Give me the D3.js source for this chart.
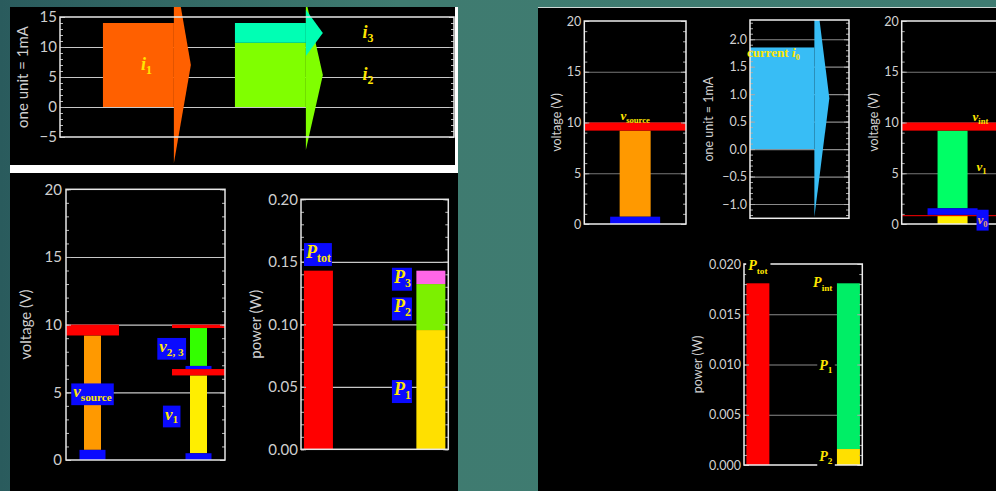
<!DOCTYPE html>
<html>
<head>
<meta charset="utf-8">
<script src="https://cdn.jsdelivr.net/npm/d3@7"></script>
<style>
  html, body { margin: 0; padding: 0; overflow: hidden; background: #3e7a70; }
  svg { display: block; }
</style>
</head>
<body>
<div id="chart"></div>
<script>
// ---------- data ----------
// top-left: branch currents (one unit = 1 mA)
const currentLabels = ['1', '2', '3'];
const currentValues = [14.0, 10.7, 3.3];
const currentBranch = [0, 1, 1];            // i2 and i3 share the right arrow
const currentTicks = [-5, 0, 5, 10, 15];

// bottom-left: voltages (V)
const voltColumns = ['source', 'load'];
const voltLabels = ['source', '1', '2, 3'];
const voltColumn = ['source', 'load', 'load'];
const voltLow = [0, 0, 6.72];
const voltHigh = [10, 6.72, 10];
const voltTicks = [0, 5, 10, 15, 20];

// bottom-left: power (W)
const powerColumns = ['tot', 'parts'];
const powerLabels = ['tot', '1', '2', '3'];
const powerColumn = ['tot', 'parts', 'parts', 'parts'];
const powerValues = [0.1429, 0.0954, 0.0368, 0.0107];
const powerTicks = [0, 0.05, 0.10, 0.15, 0.20];

// right: real source with internal resistance
const srcVolt = 10;
const srcCurrent = 1.85;
const srcCurrentTicks = [-1.0, -0.5, 0, 0.5, 1.0, 1.5, 2.0];
const intVoltLabels = ['0', '1'];
const intVoltLow = [0, 0.82];
const intVoltHigh = [0.82, 10];
const rightVoltTicks = [0, 5, 10, 15, 20];
const rightPowerColumns = ['tot', 'int'];
const rightPowerLabels = ['tot', '2', '1'];
const rightPowerColumn = ['tot', 'int', 'int'];
const rightPowerValues = [0.01808, 0.00159, 0.01649];
const rightPowerTicks = [0, 0.005, 0.010, 0.015, 0.020];

// ---------- styles ----------
const YELLOW = '#ffe600';
const BLUE = '#0a0aff';
const RED = '#ff0000';
const SERIF = '"Liberation Serif", "Times New Roman", serif';
const SANS = 'Lato, "Open Sans", sans-serif';

const svg = d3.select('#chart').append('svg')
  .attr('width', 996).attr('height', 491);

const defs = svg.append('defs');
const grad = defs.append('linearGradient').attr('id', 'bg').attr('x1', 0).attr('x2', 1).attr('y1', 0).attr('y2', 0);
grad.append('stop').attr('offset', '0%').attr('stop-color', '#2a5b5d');
grad.append('stop').attr('offset', '40%').attr('stop-color', '#3f7b70');
grad.append('stop').attr('offset', '100%').attr('stop-color', '#3f7c72');
svg.append('rect').attr('width', 996).attr('height', 491).attr('fill', 'url(#bg)');

// panels
svg.append('rect').attr('x', 10).attr('y', 7).attr('width', 445).attr('height', 158).attr('fill', '#000');
svg.append('rect').attr('x', 455).attr('y', 7).attr('width', 3).attr('height', 158).attr('fill', '#fff');
svg.append('rect').attr('x', 10).attr('y', 165).attr('width', 448).attr('height', 8).attr('fill', '#fff');
svg.append('rect').attr('x', 10).attr('y', 173).attr('width', 448).attr('height', 318).attr('fill', '#000');
svg.append('rect').attr('x', 538).attr('y', 7).attr('width', 458).attr('height', 484).attr('fill', '#000');
svg.append('line').attr('x1', 538).attr('x2', 996).attr('y1', 7.5).attr('y2', 7.5).attr('stroke', '#cfd8d6');

defs.append('clipPath').attr('id', 'clipTop')
  .append('rect').attr('x', 10).attr('y', 7).attr('width', 445).attr('height', 158);

// ---------- helpers ----------
function grid(g, y, x0, x1, values, colour) {
  const a = g.append('g').attr('transform', `translate(${x0},0)`)
    .call(d3.axisLeft(y).tickValues(values).tickSize(-(x1 - x0)).tickFormat(''));
  a.select('.domain').remove();
  a.selectAll('line').attr('stroke', colour).attr('stroke-width', 1.2);
}

function frame(g, y, x0, x1, o) {
  const [d0, d1] = y.domain();
  const minor = d3.range(Math.ceil(d0 / o.minor - 1e-9), Math.floor(d1 / o.minor + 1e-9) + 1)
    .map(k => +(k * o.minor).toFixed(6));
  [[d3.axisLeft, x0], [d3.axisRight, x1]].forEach(([axis, xx]) => {
    [[minor, 3], [o.ticks, 5]].forEach(([vals, len]) => {
      const a = g.append('g').attr('transform', `translate(${xx},0)`)
        .call(axis(y).tickValues(vals).tickSize(-len).tickFormat(''));
      a.select('.domain').remove();
      a.selectAll('line').attr('stroke', o.tickColour);
    });
  });
  g.append('rect')
    .attr('x', x0).attr('y', y.range()[1])
    .attr('width', x1 - x0).attr('height', y.range()[0] - y.range()[1])
    .attr('fill', 'none').attr('stroke', o.frameColour).attr('stroke-width', 1.5);
  const lab = g.append('g').attr('transform', `translate(${x0},0)`)
    .call(d3.axisLeft(y).tickValues(o.ticks).tickSize(0).tickPadding(o.pad).tickFormat(o.fmt));
  lab.select('.domain').remove();
  lab.selectAll('text')
    .attr('fill', o.textColour).attr('font-family', SANS).attr('font-size', o.size);
  g.append('text')
    .attr('transform', `translate(${o.titleX},${(y.range()[0] + y.range()[1]) / 2}) rotate(-90)`)
    .attr('text-anchor', 'middle').attr('dy', '0.35em')
    .attr('fill', o.textColour).attr('font-family', SANS).attr('font-size', o.titleSize)
    .text(o.title);
}

// math label: italic main letter, upright subscript; y is the vertical centre
function mathLabel(g, x, cy, main, sub, o) {
  const t = g.append('text')
    .attr('x', x).attr('y', cy + o.size * 0.3)
    .attr('text-anchor', o.anchor || 'middle')
    .attr('font-family', SERIF).attr('font-weight', 'bold')
    .attr('font-size', o.size).attr('fill', o.colour || YELLOW);
  if (o.prefix) t.append('tspan').text(o.prefix);
  t.append('tspan').attr('font-style', 'italic').text(main);
  if (sub) t.append('tspan').attr('font-size', o.size * 0.66).attr('dy', o.size * 0.22).text(sub);
  if (o.bg) {
    const b = t.node().getBBox();
    const p = o.pad || [2, 1];
    g.insert('rect', () => t.node())
      .attr('x', b.x - p[0]).attr('y', b.y + (o.trim || 0) - p[1])
      .attr('width', b.width + 2 * p[0]).attr('height', b.height - (o.trim || 0) + 2 * p[1])
      .attr('fill', o.bg);
  }
  return t;
}

function arrow(g, x, y, x0, x1, head, lo, hi, colour) {
  const mid = (lo + hi) / 2, half = 1.17 * (hi - lo);
  g.append('rect')
    .attr('x', x(x0)).attr('y', y(hi))
    .attr('width', x(x1) - x(x0)).attr('height', y(lo) - y(hi))
    .attr('fill', colour);
  g.append('path')
    .attr('d', d3.line()([[x(x1), y(mid + half)], [x(x1) + head, y(mid)], [x(x1), y(mid - half)]]) + 'Z')
    .attr('fill', colour);
}

// ---------- top-left: currents ----------
{
  const g = svg.append('g');
  const y = d3.scaleLinear().domain([-5, 15]).range([137, 17]);
  const x = d3.scaleLinear().domain([0, 10]).range([60, 454]);
  const colours = ['#ff6000', '#80ff00', '#00ffb4'];
  const slotStart = [1.09, 4.44], slotWidth = 1.8;
  grid(g, y, 60, 454, [0, 5, 10], '#c8c8c8');
  const ga = g.append('g').attr('clip-path', 'url(#clipTop)');
  const base = [0, 0];
  currentValues.forEach((v, i) => {
    const b = currentBranch[i];
    const lo = base[b];
    base[b] += v;
    const x0 = slotStart[b], x1 = x0 + slotWidth;
    arrow(ga, x, y, x0, x1, 17, lo, lo + v, colours[i]);
    const lx = b === 0 ? x((x0 + x1) / 2) + 8 : x(x1) + 62;
    mathLabel(g, lx, y(lo + v / 2), 'i', currentLabels[i], { size: 18 });
  });
  frame(g, y, 60, 454, {
    ticks: currentTicks, minor: 1, fmt: d3.format('d'), pad: 3,
    tickColour: '#bbbbbb', frameColour: '#e6e6e6', textColour: '#cfcfcf', size: 15,
    title: 'one unit = 1mA', titleX: 23, titleSize: 15
  });
}

// ---------- bottom-left: voltages ----------
{
  const g = svg.append('g');
  const y = d3.scaleLinear().domain([0, 20]).range([460, 189.3]);
  const x = d3.scalePoint().domain(voltColumns).range([66, 225]).padding(0.25);
  const colours = ['#ff9900', '#ffee00', '#33ff00'];
  const redCap = [0.8, 0.47, 0.25], blueCap = [0.75, 0.5, 0.23];
  grid(g, y, 66, 225, [5, 10, 15], '#c8c8c8');
  voltLow.forEach((lo, i) => {
    const hi = voltHigh[i], cx = x(voltColumn[i]);
    g.append('rect').attr('x', cx - 8.5).attr('width', 17)
      .attr('y', y(hi - redCap[i])).attr('height', y(lo + blueCap[i]) - y(hi - redCap[i]))
      .attr('fill', colours[i]);
    g.append('rect').attr('x', cx - 13).attr('width', 26)
      .attr('y', y(lo + blueCap[i])).attr('height', y(lo) - y(lo + blueCap[i]))
      .attr('fill', BLUE);
    g.append('rect').attr('x', cx - 26.5).attr('width', 53)
      .attr('y', y(hi)).attr('height', y(hi - redCap[i]) - y(hi))
      .attr('fill', RED);
  });
  frame(g, y, 66, 225, {
    ticks: voltTicks, minor: 1, fmt: d3.format('d'), pad: 4,
    tickColour: '#bbbbbb', frameColour: '#e6e6e6', textColour: '#cfcfcf', size: 15,
    title: 'voltage (V)', titleX: 26, titleSize: 15
  });
  voltLow.forEach((lo, i) => {
    const cx = x(voltColumn[i]);
    const lx = i === 0 ? cx : cx - 27;
    mathLabel(g, lx, y((lo + voltHigh[i]) / 2), 'v', voltLabels[i],
      { size: 17, bg: BLUE, pad: [2, 2], trim: 3 });
  });
}

// ---------- bottom-left: power ----------
{
  const g = svg.append('g');
  const y = d3.scaleLinear().domain([0, 0.2]).range([449.3, 199.3]);
  const x = d3.scalePoint().domain(powerColumns).range([301, 448.3]).padding(0.155);
  const colours = ['#ff0000', '#ffe000', '#7cf000', '#ff66e8'];
  grid(g, y, 301, 448.3, [0.05, 0.10, 0.15], '#c8c8c8');
  const base = {};
  const segs = powerValues.map((v, i) => {
    const c = powerColumn[i], lo = base[c] || 0;
    base[c] = lo + v;
    return { c, lo, hi: lo + v, i };
  });
  g.selectAll('rect.bar').data(segs).join('rect')
    .attr('class', 'bar')
    .attr('x', d => x(d.c) - 14.5).attr('width', 29)
    .attr('y', d => y(d.hi)).attr('height', d => y(d.lo) - y(d.hi))
    .attr('fill', d => colours[d.i]);
  frame(g, y, 301, 448.3, {
    ticks: powerTicks, minor: 0.01, fmt: d3.format('.2f'), pad: 3,
    tickColour: '#bbbbbb', frameColour: '#e6e6e6', textColour: '#cfcfcf', size: 15,
    title: 'power (W)', titleX: 256, titleSize: 15
  });
  segs.forEach(d => {
    if (d.c === 'tot') {
      mathLabel(g, x(d.c), y(d.hi) - 18, 'P', powerLabels[d.i], { size: 18, bg: BLUE, pad: [1, 1], trim: 2 });
    } else {
      mathLabel(g, x(d.c) - 20, y((d.lo + d.hi) / 2), 'P', powerLabels[d.i], { size: 18, anchor: 'end', bg: BLUE, pad: [1, 1], trim: 2 });
    }
  });
}

// ---------- right: source voltage ----------
const yRV = d3.scaleLinear().domain([0, 20]).range([224, 21]);
function rightVoltFrame(g, x0, x1, titleX) {
  frame(g, yRV, x0, x1, {
    ticks: rightVoltTicks, minor: 1, fmt: d3.format('d'), pad: 3,
    tickColour: '#aaaaaa', frameColour: '#eeeeee', textColour: '#d2d2d2', size: 12.5,
    title: 'voltage (V)', titleX, titleSize: 12.5
  });
}
{
  const g = svg.append('g');
  const x0 = 584.3, x1 = 686, cx = (x0 + x1) / 2;
  grid(g, yRV, x0, x1, [5, 10, 15], '#777777');
  g.append('rect').attr('x', cx - 15.5).attr('width', 31)
    .attr('y', yRV(srcVolt - 0.8)).attr('height', yRV(0.72) - yRV(srcVolt - 0.8)).attr('fill', '#ff9900');
  g.append('rect').attr('x', cx - 25).attr('width', 50)
    .attr('y', yRV(0.72)).attr('height', yRV(0) - yRV(0.72)).attr('fill', BLUE);
  g.append('rect').attr('x', x0).attr('width', x1 - x0)
    .attr('y', yRV(srcVolt)).attr('height', yRV(srcVolt - 0.8) - yRV(srcVolt)).attr('fill', RED);
  rightVoltFrame(g, x0, x1, 556.7);
  mathLabel(g, cx, yRV(srcVolt) - 6, 'v', 'source', { size: 13 });
}

// ---------- right: current ----------
{
  const g = svg.append('g');
  const y = d3.scaleLinear().domain([-1.26, 2.35]).range([218.3, 20]);
  const x = d3.scaleLinear().domain([0, 1]).range([750, 849]);
  defs.append('clipPath').attr('id', 'clipI0')
    .append('rect').attr('x', 750).attr('y', 20).attr('width', 99).attr('height', 198.3);
  grid(g, y, 750, 849, srcCurrentTicks, '#8a8a8a');
  arrow(g.append('g').attr('clip-path', 'url(#clipI0)'), x, y, 0, 0.65, 15, 0, srcCurrent, '#38bdf5');
  frame(g, y, 750, 849, {
    ticks: srcCurrentTicks, minor: 0.1, fmt: d3.format('.1f'), pad: 3,
    tickColour: '#aaaaaa', frameColour: '#eeeeee', textColour: '#d2d2d2', size: 12.5,
    title: 'one unit = 1mA', titleX: 709, titleSize: 12.5
  });
  mathLabel(g, 747, y(srcCurrent) + 6, 'i', '0', { size: 13, anchor: 'start', prefix: 'current ' });
}

// ---------- right: internal voltage ----------
{
  const g = svg.append('g');
  const x0 = 901.7, x1 = 1003.4, cx = (x0 + x1) / 2;
  grid(g, yRV, x0, x1, [5, 10, 15], '#777777');
  const colours = ['#ffee00', '#00ff66'];
  // v0: yellow with a thin red top
  g.append('rect').attr('x', cx - 15).attr('width', 30)
    .attr('y', yRV(intVoltHigh[0])).attr('height', yRV(intVoltLow[0]) - yRV(intVoltHigh[0])).attr('fill', colours[0]);
  // v1: green with blue base and red top
  const lo = intVoltLow[1], hi = intVoltHigh[1];
  g.append('rect').attr('x', cx - 15).attr('width', 30)
    .attr('y', yRV(hi - 0.8)).attr('height', yRV(lo + 0.73) - yRV(hi - 0.8)).attr('fill', colours[1]);
  g.append('rect').attr('x', cx - 25).attr('width', 50)
    .attr('y', yRV(lo + 0.73)).attr('height', yRV(lo + 0.08) - yRV(lo + 0.73)).attr('fill', BLUE);
  g.append('rect').attr('x', x0).attr('width', x1 - x0)
    .attr('y', yRV(hi)).attr('height', yRV(hi - 0.8) - yRV(hi)).attr('fill', RED);
  g.append('line').attr('x1', x0).attr('x2', x1)
    .attr('y1', yRV(intVoltHigh[0])).attr('y2', yRV(intVoltHigh[0])).attr('stroke', RED).attr('stroke-width', 1);
  rightVoltFrame(g, x0, x1, 874);
  mathLabel(g, cx + 20, yRV(hi) - 5, 'v', 'int', { size: 13, anchor: 'start' });
  mathLabel(g, cx + 24, yRV((lo + hi) / 2) - 2, 'v', intVoltLabels[1], { size: 13, anchor: 'start' });
  mathLabel(g, cx + 25, yRV((intVoltLow[0] + intVoltHigh[0]) / 2), 'v', intVoltLabels[0],
    { size: 13, anchor: 'start', colour: '#e8a070', bg: BLUE, pad: [1, 2] });
}

// ---------- right: power ----------
{
  const g = svg.append('g');
  const y = d3.scaleLinear().domain([0, 0.02]).range([465, 264]);
  const x = d3.scalePoint().domain(rightPowerColumns).range([744, 862.3]).padding(0.153);
  const colours = ['#ff0000', '#ffe000', '#00ee66'];
  grid(g, y, 744, 862.3, [0.005, 0.010, 0.015], '#8a8a8a');
  const base = {};
  const segs = rightPowerValues.map((v, i) => {
    const c = rightPowerColumn[i], lo = base[c] || 0;
    base[c] = lo + v;
    return { c, lo, hi: lo + v, i };
  });
  g.selectAll('rect.bar').data(segs).join('rect')
    .attr('class', 'bar')
    .attr('x', d => x(d.c) - 11.5).attr('width', 23)
    .attr('y', d => y(d.hi)).attr('height', d => y(d.lo) - y(d.hi))
    .attr('fill', d => colours[d.i]);
  frame(g, y, 744, 862.3, {
    ticks: rightPowerTicks, minor: 0.001, fmt: d3.format('.3f'), pad: 3,
    tickColour: '#aaaaaa', frameColour: '#eeeeee', textColour: '#d2d2d2', size: 12.5,
    title: 'power (W)', titleX: 698, titleSize: 12.5
  });
  const opt = { size: 14, bg: '#000', pad: [2, 0] };
  mathLabel(g, x('tot'), y(base.tot) - 17, 'P', 'tot', opt);
  mathLabel(g, x('int') - 16, y(base.int), 'P', 'int', Object.assign({ anchor: 'end' }, opt));
  segs.filter(d => d.c === 'int').forEach(d => {
    mathLabel(g, x(d.c) - 16, y((d.lo + d.hi) / 2), 'P', rightPowerLabels[d.i], Object.assign({ anchor: 'end' }, opt));
  });
}
</script>
</body>
</html>
